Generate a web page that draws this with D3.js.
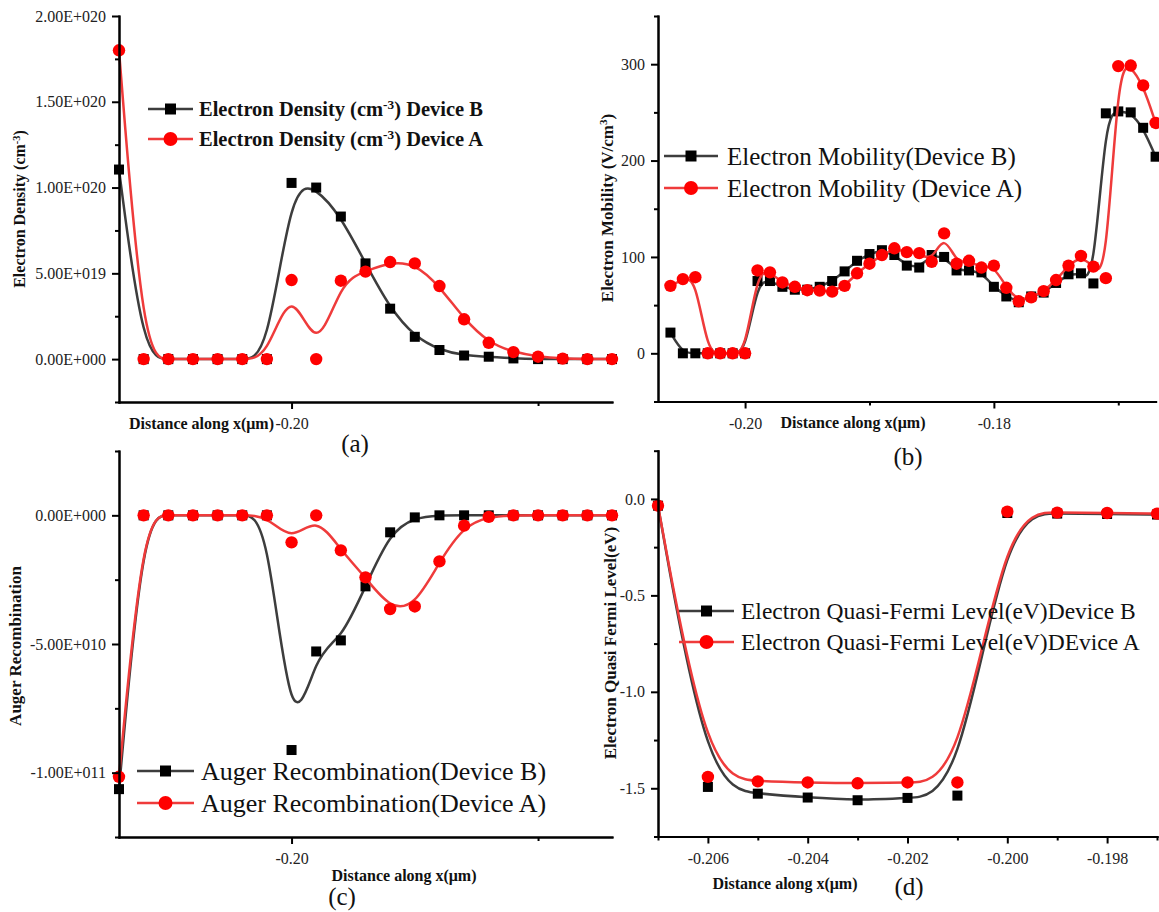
<!DOCTYPE html>
<html lang="en">
<head>
<meta charset="utf-8">
<title>Device profiles</title>
<script src="https://cdn.jsdelivr.net/npm/d3@7"></script>
<style>
  body { margin: 0; background: #fff; }
  svg { display: block; font-family: "Liberation Serif", "Times New Roman", serif; }
  .axis path, .axis line { stroke: #000; stroke-width: 2; }
  .axis text { font-size: 16px; fill: #222; font-family: "Liberation Serif", "Times New Roman", serif; }
  .title { font-weight: bold; font-size: 16px; fill: #111; }
</style>
</head>
<body>
<script>
// ---- data ----
var xDensity = [-0.207, -0.206, -0.205, -0.204, -0.203, -0.202, -0.201, -0.200, -0.199, -0.198, -0.197,
                -0.196, -0.195, -0.194, -0.193, -0.192, -0.191, -0.190, -0.189, -0.188, -0.187];
var densityB = [1.105e20, 0, 0, 0, 0, 0, 0, 1.027e20, 1.0e20, 8.31e19, 5.58e19,
                2.94e19, 1.30e19, 5.3e18, 2.1e18, 1.4e18, 0.4e18, 0, 0, 0, 0];
var densityA = [1.80e20, 0, 0, 0, 0, 0, 0, 4.61e19, 0, 4.57e19, 5.10e19,
                5.66e19, 5.58e19, 4.26e19, 2.32e19, 9.5e18, 4.1e18, 1.4e18, 0.3e18, 0, 0];

var xMobility = [-0.206, -0.205, -0.204, -0.203, -0.202, -0.201, -0.200, -0.199, -0.198, -0.197,
                 -0.196, -0.195, -0.194, -0.193, -0.192, -0.191, -0.190, -0.189, -0.188, -0.187,
                 -0.186, -0.185, -0.184, -0.183, -0.182, -0.181, -0.180, -0.179, -0.178, -0.177,
                 -0.176, -0.175, -0.174, -0.173, -0.172, -0.171, -0.170, -0.169, -0.168, -0.167];
var mobilityB = [21.5, 0, 0, 0, 0, 0, 0, 75, 75, 69,
                 66, 66, 69, 75, 85, 96, 103, 107, 102, 91,
                 89, 102, 100, 86, 86, 84, 69, 59, 53, 59,
                 63, 73, 82, 83, 72.5, 249, 251, 250, 234, 204];
var mobilityA = [70, 77, 79, 0, 0, 0, 0, 86, 84, 73.5,
                 69, 65.5, 65, 64, 70, 83, 93, 102, 109, 105,
                 104, 95, 124.5, 93, 96, 89, 91, 68, 54, 58,
                 64.5, 76, 91, 101, 90, 78, 298, 298.6, 278, 239];

var xAuger = xDensity;
var augerB = [-1.064e11, 0, 0, 0, 0, 0, 0, -9.12e10, -5.29e10, -4.86e10, -2.76e10,
              -6.6e9, -0.8e9, 0, 0, 0, 0, 0, 0, 0, 0];
var augerA = [-1.016e11, 0, 0, 0, 0, 0, 0, -1.05e10, 0, -1.36e10, -2.41e10,
              -3.64e10, -3.54e10, -1.79e10, -4.0e9, -0.6e9, 0, 0, 0, 0, 0];

var xFermi = [-0.207, -0.206, -0.205, -0.204, -0.203, -0.202, -0.201, -0.200, -0.199, -0.198, -0.197];
var fermiB = [-0.035, -1.493, -1.528, -1.548, -1.562, -1.550, -1.538, -0.073, -0.076, -0.078, -0.081];
var fermiA = [-0.035, -1.441, -1.464, -1.470, -1.474, -1.470, -1.470, -0.066, -0.071, -0.073, -0.076];

// tick values
var densityTicks = [0, 5e19, 1e20, 1.5e20, 2e20];
var densityMinor = [-2.5e19, 2.5e19, 7.5e19, 1.25e20, 1.75e20];
var mobilityTicks = [0, 100, 200, 300];
var mobilityMinor = [-50, 50, 150, 250, 350];
var augerTicks = [0, -5e10, -1e11];
var augerMinor = [2.5e10, -2.5e10, -7.5e10, -1.25e11];
var fermiTicks = [0, -0.5, -1.0, -1.5];
var fermiMinor = [0.25, -0.25, -0.75, -1.25, -1.75];

var xTicksAC = [-0.20], xMinorAC = [-0.19];
var xTicksB = [-0.20, -0.18], xMinorB = [-0.19, -0.17];
var xTicksD = [-0.206, -0.204, -0.202, -0.200, -0.198];
var xMinorD = [-0.207, -0.205, -0.203, -0.201, -0.199, -0.197];

var W = 1159, H = 912;
var BLACK_LINE = "#3d3d3d", RED_LINE = "#ef3b3b";

var loc = d3.formatLocale({decimal: ".", thousands: ",", grouping: [3], currency: ["", ""], minus: "-"});

function sci(v) {
  if (v === 0) return "0.00E+000";
  var e = Math.floor(Math.log10(Math.abs(v)) + 1e-9);
  var m = v / Math.pow(10, e);
  return (m < 0 ? "-" : "") + Math.abs(m).toFixed(2) + "E" + (e >= 0 ? "+" : "-") + String(Math.abs(e)).padStart(3, "0");
}

var svg = d3.select("body").append("svg")
    .attr("width", W)
    .attr("height", H);

svg.append("rect").attr("width", W).attr("height", H).attr("fill", "#fff");

// write text made of parts; a part in an array is a superscript
function richText(sel, parts) {
  parts.forEach(function(p) {
    if (Array.isArray(p)) {
      sel.append("tspan").attr("baseline-shift", "super").attr("font-size", "65%").text(p[0]);
    } else {
      sel.append("tspan").text(p);
    }
  });
}

function drawPanel(p) {
  var x = d3.scaleLinear().domain(p.xDomain).range([p.left, p.right]);
  var y = d3.scaleLinear().domain(p.yDomain).range([p.bottom, p.top]);
  var g = svg.append("g");

  // curves + markers
  p.series.forEach(function(s) {
    var pts = s.x.map(function(v, i) { return [v, s.y[i]]; });
    var line = d3.line()
        .x(function(d) { return x(d[0]); })
        .y(function(d) { return y(d[1]); })
        .curve(d3.curveBasis);
    g.append("path")
        .datum(pts)
        .attr("d", line)
        .attr("fill", "none")
        .attr("stroke", s.line)
        .attr("stroke-width", 2.5);
    if (s.shape === "square") {
      g.selectAll(null).data(pts).enter().append("rect")
          .attr("x", function(d) { return x(d[0]) - 5; })
          .attr("y", function(d) { return y(d[1]) - 5; })
          .attr("width", 10).attr("height", 10)
          .attr("fill", s.marker);
    } else {
      g.selectAll(null).data(pts).enter().append("circle")
          .attr("cx", function(d) { return x(d[0]); })
          .attr("cy", function(d) { return y(d[1]); })
          .attr("r", 6.2)
          .attr("fill", s.marker);
    }
  });

  // axes
  g.append("g").attr("class", "axis")
      .attr("transform", "translate(" + p.left + ",0)")
      .call(d3.axisLeft(y).tickValues(p.yTicks).tickFormat(p.yFmt).tickSize(7).tickSizeOuter(0).tickPadding(6));
  g.append("g").attr("class", "axis")
      .attr("transform", "translate(" + p.left + ",0)")
      .call(d3.axisLeft(y).tickValues(p.yMinor).tickFormat("").tickSize(4).tickSizeOuter(0));
  g.append("g").attr("class", "axis")
      .attr("transform", "translate(0," + p.bottom + ")")
      .call(d3.axisBottom(x).tickValues(p.xTicks).tickFormat(p.xFmt).tickSize(7).tickSizeOuter(0).tickPadding(9));
  g.append("g").attr("class", "axis")
      .attr("transform", "translate(0," + p.bottom + ")")
      .call(d3.axisBottom(x).tickValues(p.xMinor).tickFormat("").tickSize(4).tickSizeOuter(0));
  g.selectAll(".axis .domain").attr("stroke-linecap", "square");

  // axis titles
  var yt = g.append("text").attr("class", "title")
      .attr("text-anchor", "middle")
      .attr("transform", "translate(" + p.yTitlePos[0] + "," + p.yTitlePos[1] + ") rotate(-90)")
      .attr("dy", "0.35em")
      .style("font-size", p.yTitleSize + "px");
  richText(yt, p.yTitle);

  g.append("text").attr("class", "title")
      .attr("x", p.xTitlePos[0]).attr("y", p.xTitlePos[1])
      .attr("dy", "0.35em")
      .attr("text-anchor", p.xTitleAnchor)
      .text("Distance along x(\u03bcm)");

  // legend
  p.legend.forEach(function(l, i) {
    var ly = p.legendY[i];
    var s = p.series[i];
    g.append("line")
        .attr("x1", p.legendX[0]).attr("x2", p.legendX[1])
        .attr("y1", ly).attr("y2", ly)
        .attr("stroke", s.line).attr("stroke-width", 2.5);
    var mx = (p.legendX[0] + p.legendX[1]) / 2;
    if (s.shape === "square") {
      g.append("rect").attr("x", mx - 5.5).attr("y", ly - 5.5).attr("width", 11).attr("height", 11).attr("fill", s.marker);
    } else {
      g.append("circle").attr("cx", mx).attr("cy", ly).attr("r", 7).attr("fill", s.marker);
    }
    var t = g.append("text")
        .attr("x", p.legendText).attr("y", ly)
        .attr("dy", "0.35em")
        .style("font-size", p.legendSize + "px")
        .style("font-weight", p.legendBold ? "bold" : "normal")
        .attr("fill", "#111");
    richText(t, l);
  });

  // panel label
  g.append("text")
      .attr("x", p.tag[0]).attr("y", p.tag[1])
      .attr("dy", "0.35em")
      .attr("text-anchor", "middle")
      .style("font-size", "25px")
      .attr("fill", "#111")
      .text(p.tag[2]);
}

var fmt2 = loc.format(".2f"), fmt3 = loc.format(".3f"), fmt1 = loc.format(".1f");

drawPanel({
  xDomain: [-0.207, -0.187], left: 119, right: 612,
  yDomain: [-2.5e19, 2e20], bottom: 402, top: 16,
  yTicks: densityTicks, yMinor: densityMinor, yFmt: sci,
  xTicks: xTicksAC, xMinor: xMinorAC, xFmt: fmt2,
  series: [
    {x: xDensity, y: densityB, line: BLACK_LINE, marker: "#000", shape: "square"},
    {x: xDensity, y: densityA, line: RED_LINE, marker: "#ff0000", shape: "circle"}
  ],
  yTitle: ["Electron Density (cm", ["-3"], ")"], yTitlePos: [19, 209], yTitleSize: 16,
  xTitlePos: [274, 423], xTitleAnchor: "end",
  legend: [["Electron Density (cm", ["-3"], ") Device B"], ["Electron Density (cm", ["-3"], ") Device A"]],
  legendX: [148, 193], legendY: [109, 139], legendText: 199, legendSize: 20.5, legendBold: true,
  tag: [355, 443, "(a)"]
});

drawPanel({
  xDomain: [-0.207, -0.167], left: 658, right: 1155.6,
  yDomain: [-50, 350], bottom: 401.5, top: 16,
  yTicks: mobilityTicks, yMinor: mobilityMinor, yFmt: loc.format("d"),
  xTicks: xTicksB, xMinor: xMinorB, xFmt: fmt2,
  series: [
    {x: xMobility, y: mobilityB, line: BLACK_LINE, marker: "#000", shape: "square"},
    {x: xMobility, y: mobilityA, line: RED_LINE, marker: "#ff0000", shape: "circle"}
  ],
  yTitle: ["Electron Mobility (V/cm", ["3"], ")"], yTitlePos: [607, 208], yTitleSize: 17,
  xTitlePos: [853, 422], xTitleAnchor: "middle",
  legend: [["Electron Mobility(Device B)"], ["Electron Mobility (Device A)"]],
  legendX: [664, 718], legendY: [156, 188], legendText: 727, legendSize: 25, legendBold: false,
  tag: [908, 456, "(b)"]
});

drawPanel({
  xDomain: [-0.207, -0.187], left: 119, right: 612,
  yDomain: [-1.25e11, 2.5e10], bottom: 837, top: 451,
  yTicks: augerTicks, yMinor: augerMinor, yFmt: sci,
  xTicks: xTicksAC, xMinor: xMinorAC, xFmt: fmt2,
  series: [
    {x: xAuger, y: augerB, line: BLACK_LINE, marker: "#000", shape: "square"},
    {x: xAuger, y: augerA, line: RED_LINE, marker: "#ff0000", shape: "circle"}
  ],
  yTitle: ["Auger Recombination"], yTitlePos: [15, 646], yTitleSize: 17,
  xTitlePos: [404, 875], xTitleAnchor: "middle",
  legend: [["Auger Recombination(Device B)"], ["Auger Recombination(Device A)"]],
  legendX: [137, 194], legendY: [771, 803], legendText: 201, legendSize: 26, legendBold: false,
  tag: [342, 896, "(c)"]
});

drawPanel({
  xDomain: [-0.207, -0.197], left: 658, right: 1157,
  yDomain: [-1.75, 0.25], bottom: 836.5, top: 450.7,
  yTicks: fermiTicks, yMinor: fermiMinor, yFmt: fmt1,
  xTicks: xTicksD, xMinor: xMinorD, xFmt: fmt3,
  series: [
    {x: xFermi, y: fermiB, line: BLACK_LINE, marker: "#000", shape: "square"},
    {x: xFermi, y: fermiA, line: RED_LINE, marker: "#ff0000", shape: "circle"}
  ],
  yTitle: ["Electron Quasi Fermi Level(eV)"], yTitlePos: [610, 643], yTitleSize: 17,
  xTitlePos: [785, 883], xTitleAnchor: "middle",
  legend: [["Electron Quasi-Fermi Level(eV)Device B"], ["Electron Quasi-Fermi Level(eV)DEvice A"]],
  legendX: [679, 734], legendY: [611, 642], legendText: 741, legendSize: 23.5, legendBold: false,
  tag: [909, 886, "(d)"]
});
</script>
</body>
</html>
